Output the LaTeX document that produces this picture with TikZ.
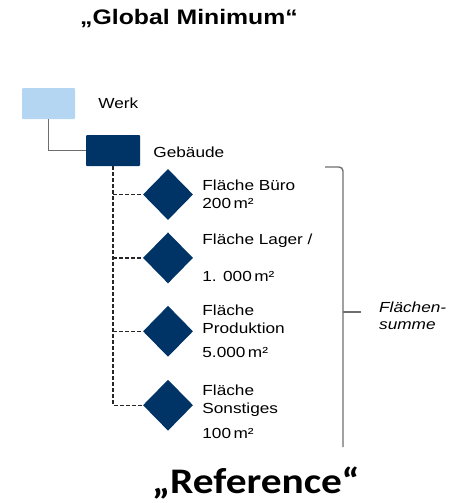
\documentclass[tikz,border=0pt]{standalone}
\usepackage{fontspec}
\setmainfont[FakeStretch=1.18]{Liberation Sans}
\newfontfamily\calfont[FakeStretch=1.15]{Carlito}
\usepackage{xcolor}
\usetikzlibrary{positioning,shapes.geometric}
\definecolor{werkblue}{RGB}{180,214,243}
\definecolor{navy}{RGB}{0,51,102}
\definecolor{linegray}{RGB}{110,110,110}

\begin{document}
\begin{tikzpicture}[
      x=1pt, y=-1pt,
      lbl/.style = {inner sep=0pt, font=\fontsize{14.6}{17.5}\selectfont, align=left},
      box/.style = {rounded corners=1pt, minimum width=53pt, minimum height=31pt,
                    inner sep=0pt},
      diam/.style = {diamond, fill=navy, minimum width=50pt, minimum height=51pt,
                     inner sep=0pt},
      tree/.style = {draw=linegray, line width=1.6pt},
      dashline/.style = {draw=black!85, line width=1.2pt, dash pattern=on 3.5pt off 2.5pt}
    ]
    \useasboundingbox (0,0) rectangle (452,503);

    \node (title) [anchor=base, font=\bfseries\fontsize{21}{25}\selectfont]
          at (189,25) {„Global Minimum“};

    \node (werk)    [box, fill=werkblue] at (48.5,103.5) {};
    \node (geb)     [box, fill=navy, minimum width=54pt] at (113,150.5) {};
    \node (werklbl) [lbl, right=23pt of werk] {Werk};
    \node (geblbl)  [lbl, right=13pt of geb, yshift=-2pt] {Gebäude};

    \node (buero) [diam] at (168,194.5) {};
    \node (lager) [diam, below=12pt of buero] {};
    \node (prod)  [diam, below=22pt of lager] {};
    \node (sonst) [diam, below=22.5pt of prod] {};

    \node (buerolbl) [lbl, right=9pt of buero] {Fläche Büro\\200\,m²};
    \node (lagerlbl) [lbl, right=9pt of lager] {Fläche Lager /\\[19pt]1. 000\,m²};
    \node (prodlbl)  [lbl, right=9pt of prod]  {Fläche\\Produktion\\[7pt]5.000\,m²};
    \node (sonstlbl) [lbl, right=9pt of sonst, yshift=-7pt] {Fläche\\Sonstiges\\[8pt]100\,m²};

    \draw[tree] (werk.south) |- (geb.west);

    \draw[dashline] (geb.south) |- (sonst.west);
    \draw[dashline] (geb.south |- buero) -- (buero.west);
    \draw[dashline] (geb.south |- lager) -- (lager.west);
    \draw[dashline] (geb.south |- prod)  -- (prod.west);

    % Klammer
    \coordinate (btop) at (325,167);
    \coordinate (bmid) at (343,312);
    \coordinate (bbot) at (343,447);
    \draw[tree, line width=1.4pt, rounded corners=4pt] (btop) -- (bbot |- btop) -- (bbot);
    \draw[tree, line width=1.4pt] (bmid) -- ++(18,0);

    \node (summe) [lbl, font=\itshape\fontsize{14.6}{17.5}\selectfont, anchor=west]
          at (379,316) {Flächen-\\summe};

    \node (ref) [anchor=base, font=\calfont\bfseries\fontsize{36}{42}\selectfont]
          at (256,493) {„Reference“};
\end{tikzpicture}
\end{document}
